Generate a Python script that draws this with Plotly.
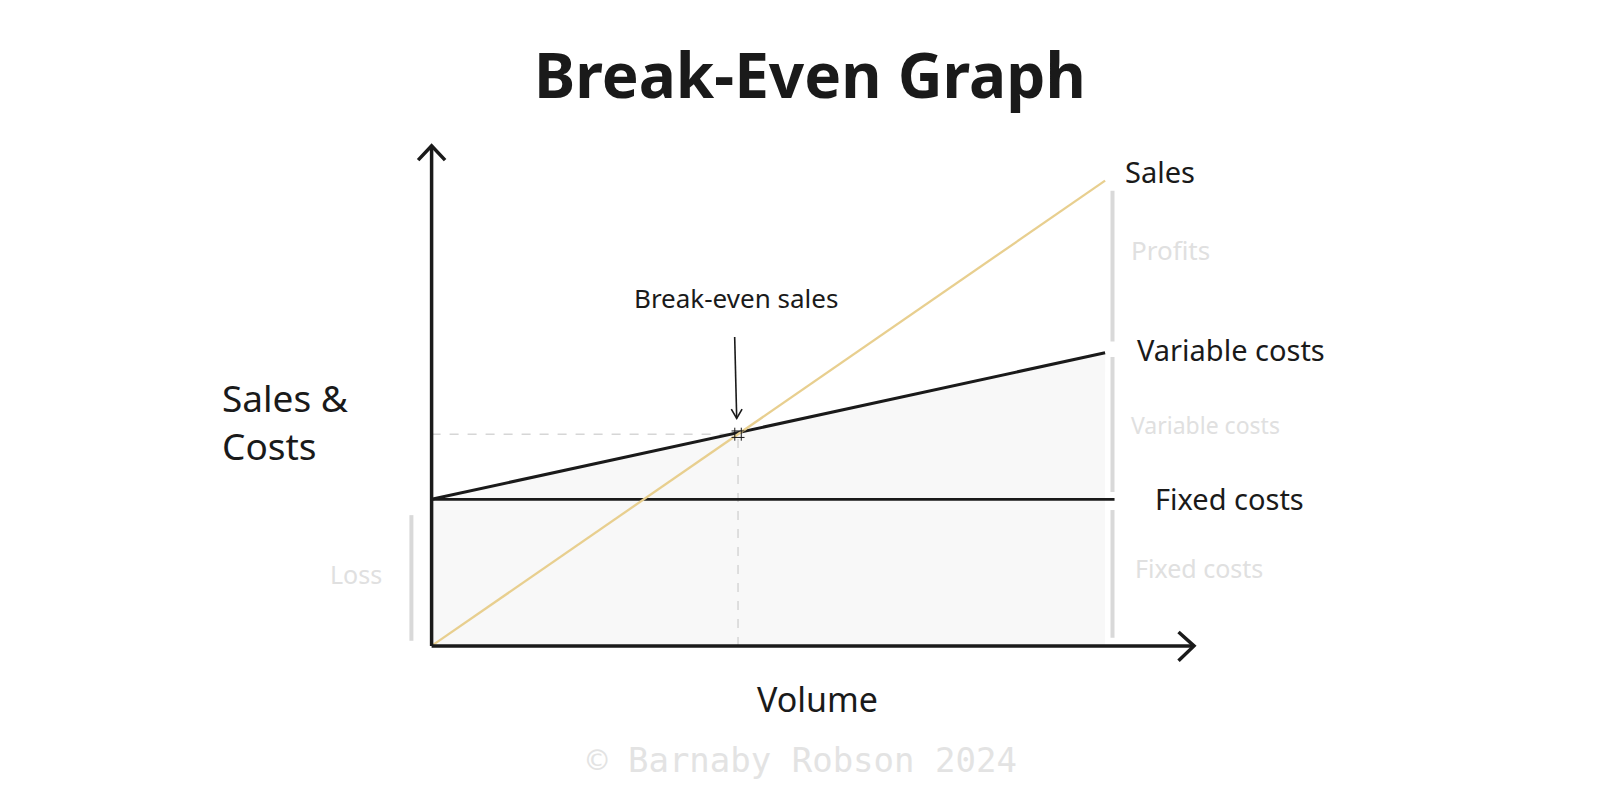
import plotly.graph_objects as go

# ---- data ----
volume = [0, 100]
sales = [0, 100]
fixed_x = [0, 101.4]
fixed_costs = [31.5, 31.5]
total_costs = [31.5, 63]
break_even_volume = [45.5]
break_even_value = [45.5]
axis_len_y = 107.5
axis_len_x = 113.2

INK = "#1a1a1a"
GOLD = "#e8cf8f"
BAR = "#d9d9d9"
FAINT = "#e0e0e0"
FONT = "Noto Sans"

# figure pixel mapping (page body adds an 8px offset)
W, H = 1600, 800
ux, uy = 6.735, 4.653          # px per data unit
origin_x, origin_y = 423.6, 637.9  # figure pixels of data origin
x0 = -origin_x / ux
y0 = -(H - origin_y) / uy

fig = go.Figure()

# shaded cost area
fig.add_trace(go.Scatter(x=volume, y=total_costs, mode="lines", line=dict(width=0),
                         fill="tozeroy", fillcolor="#f8f8f8", hoverinfo="skip"))

# dashed guides to the break-even point
be_x, be_y = break_even_volume[0], break_even_value[0]
fig.add_trace(go.Scatter(x=[0, be_x], y=[be_y, be_y], mode="lines",
                         line=dict(color="#d6d6d6", width=1.5, dash="dash"), hoverinfo="skip"))
fig.add_trace(go.Scatter(x=[be_x, be_x], y=[0, be_y], mode="lines",
                         line=dict(color="#d6d6d6", width=1.5, dash="dash"), hoverinfo="skip"))

# cost lines
fig.add_trace(go.Scatter(x=fixed_x, y=fixed_costs, mode="lines",
                         line=dict(color=INK, width=2.7), hoverinfo="skip"))
fig.add_trace(go.Scatter(x=volume, y=total_costs, mode="lines",
                         line=dict(color=INK, width=3.1), hoverinfo="skip"))
# sales line
fig.add_trace(go.Scatter(x=volume, y=sales, mode="lines",
                         line=dict(color=GOLD, width=2.3), hoverinfo="skip"))

# break-even marker
fig.add_trace(go.Scatter(x=break_even_volume, y=break_even_value, mode="markers",
                         marker=dict(symbol="hash", size=13, color=INK,
                                     line=dict(width=1, color=INK)), hoverinfo="skip"))

# grey segment bars
bar_x = volume[1] + 1.1
segments = [
    (bar_x, total_costs[1] + 2.4, sales[1] - 2.2),
    (bar_x, fixed_costs[1] + 1.6, total_costs[1] - 0.9),
    (bar_x, 1.75, fixed_costs[1] - 2.3),
    (-3.0, 1.1, fixed_costs[0] - 3.4),
]
for sx, ya, yb in segments:
    fig.add_trace(go.Scatter(x=[sx, sx], y=[ya, yb], mode="lines",
                             line=dict(color=BAR, width=4), hoverinfo="skip"))

# axes with open arrowheads
fig.add_trace(go.Scatter(x=[0, 0, None, -2.0, 0, 2.0],
                         y=[0, axis_len_y, None, axis_len_y - 3.1, axis_len_y, axis_len_y - 3.1],
                         mode="lines", line=dict(color=INK, width=3.5), hoverinfo="skip"))
fig.add_trace(go.Scatter(x=[0, axis_len_x, None, axis_len_x - 2.3, axis_len_x, axis_len_x - 2.3],
                         y=[0, 0, None, 3.0, 0, -3.2],
                         mode="lines", line=dict(color=INK, width=3.5), hoverinfo="skip"))

# pointer arrow to break-even point
tip_y = be_y + 3.4
fig.add_trace(go.Scatter(x=[be_x - 0.5, be_x - 0.2, None, be_x - 1.0, be_x - 0.2, be_x + 0.6],
                         y=[be_y + 20.9, tip_y, None, tip_y + 2.0, tip_y, tip_y + 2.0],
                         mode="lines", line=dict(color=INK, width=1.6), hoverinfo="skip"))

ann = []
def txt(x, y, s, size, color=INK, xanchor="left", family=FONT):
    ann.append(dict(x=x, y=y, xref="x", yref="y", text=s, showarrow=False,
                    xanchor=xanchor, yanchor="middle",
                    font=dict(size=size, color=color, family=family)))

txt(102.6, 102.0, "Sales", 29)
txt(104.4, 63.6, "Variable costs", 29)
txt(107.1, 31.6, "Fixed costs", 29)
txt(103.6, 85.1, "Profits", 26, FAINT)
txt(103.6, 47.4, "Variable costs", 23, FAINT)
txt(104.1, 16.7, "Fixed costs", 25, FAINT)
txt(-7.0, 15.4, "Loss", 25, FAINT, xanchor="right")
txt(45.2, 74.8, "Break-even sales", 26, INK, xanchor="center")
txt(-31.4, 53.3, "Sales &", 37)
txt(-31.4, 43.0, "Costs", 37)
txt(57.3, -11.4, "Volume", 34, xanchor="center")

ann.append(dict(x=0.501, y=0.918, xref="paper", yref="paper", text="<b>Break-Even Graph</b>",
                showarrow=False, xanchor="center", yanchor="middle",
                font=dict(size=62, color=INK, family=FONT)))
ann.append(dict(x=0.496, y=0.06, xref="paper", yref="paper", text="© Barnaby Robson 2024",
                showarrow=False, xanchor="center", yanchor="middle",
                font=dict(size=34, color="#e3e3e3", family="DejaVu Sans Mono")))

fig.update_layout(
    annotations=ann,
    width=W, height=H, margin=dict(l=0, r=0, t=0, b=0),
    paper_bgcolor="white", plot_bgcolor="white", showlegend=False,
    xaxis=dict(range=[x0, x0 + W / ux], visible=False, fixedrange=True),
    yaxis=dict(range=[y0, y0 + H / uy], visible=False, fixedrange=True),
)

fig.write_html("out.html")
